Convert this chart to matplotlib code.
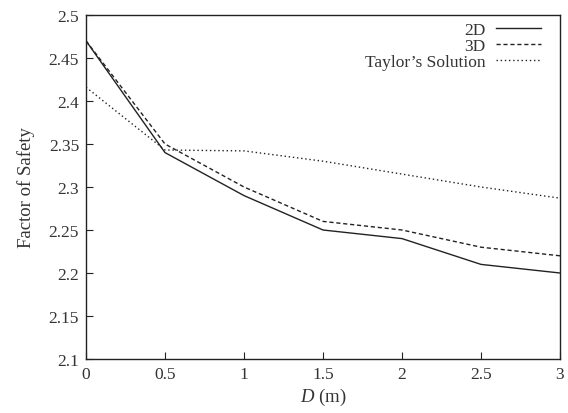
import matplotlib
matplotlib.use('Agg')
import matplotlib.pyplot as plt
import numpy as np

plt.rcParams['font.family'] = 'Liberation Serif'
plt.rcParams['mathtext.fontset'] = 'custom'
plt.rcParams['mathtext.it'] = 'Liberation Serif:italic'
plt.rcParams['mathtext.rm'] = 'Liberation Serif'

D = [0, 0.5, 1, 1.5, 2, 2.5, 3]
fs_2d = [2.47, 2.34, 2.29, 2.25, 2.24, 2.21, 2.20]
fs_3d = [2.47, 2.35, 2.30, 2.26, 2.25, 2.23, 2.22]
fs_taylor = [2.416, 2.343, 2.342, 2.330, 2.315, 2.300, 2.287]

c = '#222222'
fig = plt.figure(figsize=(5.68, 4.14), dpi=100)
ax = fig.add_axes([86/568, 1-360/414, (560-86)/568, (360-16)/414])
ax.plot(D, fs_2d, '-', color=c, lw=1.0, label='2D')
ax.plot(D, fs_3d, '--', color=c, lw=1.0, dashes=(3, 2), label='3D')
ax.plot(D, fs_taylor, ':', color=c, lw=1.0, dashes=(1, 2), label="Taylor\u2019s Solution")
ax.set_xlim(0, 3)
ax.set_ylim(2.1, 2.5)
ax.set_xticks([0, 0.5, 1, 1.5, 2, 2.5, 3])
ax.set_xticklabels(['0', '0.5', '1', '1.5', '2', '2.5', '3'])
ax.set_yticks(np.arange(2.1, 2.501, 0.05))
ax.set_yticklabels(['2.1', '2.15', '2.2', '2.25', '2.3', '2.35', '2.4', '2.45', '2.5'])
ax.tick_params(direction='in', length=5, labelsize=12.5, labelcolor='#333333',
               color=c, top=False, right=False, pad=5)
for s in ax.spines.values():
    s.set_linewidth(1.0)
    s.set_color(c)
ax.set_xlabel(r'$D$ (m)', fontsize=13.5, color='#333333', labelpad=3)
ax.set_ylabel('Factor of Safety', fontsize=13.5, color='#333333', labelpad=10)
leg = ax.legend(frameon=False, markerfirst=False, fontsize=12.5, loc='upper right',
                handlelength=2.6, labelspacing=0.0, borderaxespad=0.0,
                handletextpad=0.6, bbox_to_anchor=(0.975, 1.0))
for t in leg.get_texts():
    t.set_color('#333333')
plt.savefig('out.png', dpi=100)
